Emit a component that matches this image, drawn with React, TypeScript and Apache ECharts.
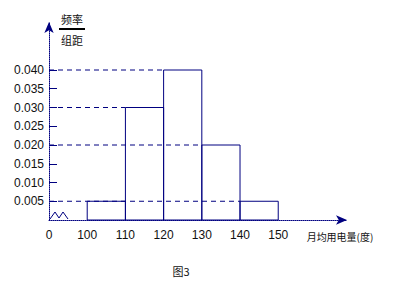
import React, { useEffect, useRef } from "react";
import * as echarts from "echarts";

const binEdges = [100, 110, 120, 130, 140, 150];
const binHeights = [0.005, 0.03, 0.04, 0.02, 0.005];
const xTickValues = [90, 100, 110, 120, 130, 140, 150];
const xTickLabels = ["0", "100", "110", "120", "130", "140", "150"];
const yTickValues = [0.005, 0.01, 0.015, 0.02, 0.025, 0.03, 0.035, 0.04];
const guideLevels = [0.04, 0.03, 0.02, 0.005];
const guideEnds = [120, 110, 130, 140];
const yTitleTop = "频率";
const yTitleBottom = "组距";
const xTitle = "月均用电量(度)";
const caption = "图3";

const NAVY = "#000080";

export default function App() {
  const ref = useRef<HTMLDivElement>(null);
  useEffect(() => {
    if (!ref.current) return;
    const chart = echarts.init(ref.current, undefined, { renderer: "svg" });
    const bins = binHeights.map((h, i) => [binEdges[i], binEdges[i + 1], h]);
    const guides = guideLevels.map((h, i) => [90, guideEnds[i], h]);
    chart.setOption({
      animation: false,
      grid: { left: 49, top: 22, right: 47, bottom: 70 },
      xAxis: {
        type: "value",
        min: 90,
        max: 168,
        splitLine: { show: false },
        axisLine: {
          show: true,
          symbol: ["none", "arrow"],
          symbolSize: [7, 11],
          lineStyle: { color: NAVY, type: "dotted", width: 1 },
        },
        axisTick: { show: false },
        axisLabel: {
          customValues: xTickValues,
          formatter: (v: number) => xTickLabels[xTickValues.indexOf(v)] ?? "",
          color: "#111",
          fontFamily: "Liberation Sans, Arial, sans-serif",
          fontSize: 12,
          margin: 9,
        },
      },
      yAxis: {
        type: "value",
        min: 0,
        max: 0.0528,
        splitLine: { show: false },
        axisLine: {
          show: true,
          symbol: ["none", "arrow"],
          symbolSize: [7, 11],
          lineStyle: { color: NAVY, type: "dotted", width: 1 },
        },
        axisTick: {
          show: true,
          inside: true,
          length: 8,
          customValues: yTickValues,
          lineStyle: { color: NAVY, width: 1 },
        },
        axisLabel: {
          customValues: yTickValues,
          formatter: (v: number) => v.toFixed(3),
          color: "#111",
          fontFamily: "Liberation Sans, Arial, sans-serif",
          fontSize: 12,
          margin: 5,
        },
      },
      series: [
        {
          type: "custom",
          data: guides,
          renderItem: (params: any, api: any) => {
            const a = api.coord([api.value(0), api.value(2)]);
            const b = api.coord([api.value(1), api.value(2)]);
            return {
              type: "line",
              shape: { x1: a[0], y1: a[1], x2: b[0], y2: b[1] },
              style: { stroke: NAVY, lineWidth: 1, lineDash: [5, 4] },
            };
          },
        },
        {
          type: "custom",
          data: bins,
          renderItem: (params: any, api: any) => {
            const p0 = api.coord([api.value(0), api.value(2)]);
            const p1 = api.coord([api.value(1), 0]);
            return {
              type: "rect",
              shape: { x: p0[0], y: p0[1], width: p1[0] - p0[0], height: p1[1] - p0[1] },
              style: { fill: "none", stroke: NAVY, lineWidth: 1 },
            };
          },
        },
      ],
      graphic: [
        {
          type: "polyline",
          shape: { points: [[50, 219], [55, 212], [59, 218], [63, 212], [68, 219]] },
          style: { stroke: NAVY, fill: "none", lineWidth: 1 },
        },
        {
          type: "text",
          x: 72,
          y: 19,
          style: { text: yTitleTop, fontSize: 11, fill: "#111", align: "center", verticalAlign: "middle", fontFamily: "Noto Sans CJK SC" },
        },
        {
          type: "line",
          shape: { x1: 59, y1: 29, x2: 85, y2: 29 },
          style: { stroke: "#000", lineWidth: 2 },
        },
        {
          type: "text",
          x: 72,
          y: 40,
          style: { text: yTitleBottom, fontSize: 11, fill: "#111", align: "center", verticalAlign: "middle", fontFamily: "Noto Sans CJK SC" },
        },
        {
          type: "text",
          x: 340,
          y: 236,
          style: { text: xTitle, fontSize: 10, fill: "#111", align: "center", verticalAlign: "middle", fontFamily: "Noto Sans CJK SC" },
        },
        {
          type: "text",
          x: 181,
          y: 271,
          style: { text: caption, fontSize: 11, fill: "#111", align: "center", verticalAlign: "middle", fontFamily: "Noto Sans CJK SC" },
        },
      ],
    });
    return () => chart.dispose();
  }, []);
  return <div ref={ref} style={{ width: 394, height: 290, position: "absolute", left: 0, top: 0, background: "#fff" }} />;
}
